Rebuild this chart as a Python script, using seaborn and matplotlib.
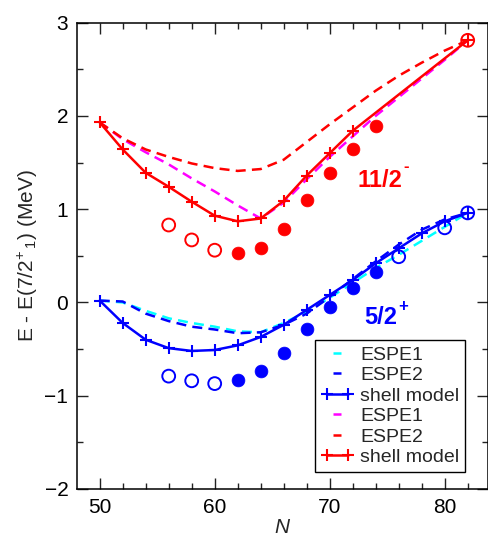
import numpy as np
import pandas as pd
import matplotlib
matplotlib.use("Agg")
import matplotlib.pyplot as plt
import seaborn as sns

# ---------------- data ----------------
N_all = [50, 52, 54, 56, 58, 60, 62, 64, 66, 68, 70, 72, 74, 76, 78, 80, 82]

# 11/2- (red family)
red_shell_N = [50, 52, 54, 56, 58, 60, 62, 64, 66, 68, 70, 72, 82]
red_shell = [1.93, 1.64, 1.39, 1.24, 1.08, 0.93, 0.87, 0.90, 1.09, 1.36, 1.60, 1.84, 2.81]
red_espe1 = [1.93, 1.75, 1.61, 1.48, 1.33, 1.19, 1.04, 0.90, 1.07, 1.32, 1.56, 1.78,
             2.00, 2.20, 2.40, 2.60, 2.81]
red_espe2 = [1.93, 1.76, 1.64, 1.56, 1.49, 1.44, 1.41, 1.43, 1.53, 1.72, 1.91, 2.09,
             2.27, 2.43, 2.57, 2.70, 2.81]
red_open_N = [56, 58, 60, 82]
red_open = [0.83, 0.67, 0.56, 2.81]
red_fill_N = [62, 64, 66, 68, 70, 72, 74]
red_fill = [0.53, 0.58, 0.79, 1.10, 1.39, 1.65, 1.89]

# 5/2+ (blue family)
blue_shell = [0.02, -0.22, -0.40, -0.49, -0.52, -0.51, -0.46, -0.37, -0.24, -0.08, 0.08,
              0.24, 0.42, 0.58, 0.74, 0.87, 0.96]
blue_espe1 = [0.02, 0.00, -0.09, -0.17, -0.22, -0.26, -0.31, -0.32, -0.22, -0.10, 0.05,
              0.21, 0.37, 0.51, 0.66, 0.81, 0.96]
blue_espe2 = [0.02, 0.01, -0.12, -0.20, -0.26, -0.29, -0.33, -0.32, -0.24, -0.12, 0.06,
              0.25, 0.44, 0.62, 0.78, 0.89, 0.96]
blue_open_N = [56, 58, 60, 76, 80, 82]
blue_open = [-0.79, -0.84, -0.87, 0.49, 0.80, 0.96]
blue_fill_N = [62, 64, 66, 68, 70, 72, 74]
blue_fill = [-0.83, -0.74, -0.54, -0.28, -0.05, 0.16, 0.33]

# ---------------- style ----------------
sns.set_style("ticks")
plt.rcParams['font.family'] = ['Liberation Sans', 'DejaVu Sans']
plt.rcParams['mathtext.fontset'] = 'custom'
plt.rcParams['mathtext.rm'] = 'Liberation Sans'
plt.rcParams['mathtext.it'] = 'Liberation Sans:italic'
plt.rcParams['mathtext.bf'] = 'Liberation Sans:bold'

RED, BLUE, CYAN, MAG = '#ff0000', '#0000ff', '#00ffff', '#ff00ff'
LW = 1.8
DASH = (4, 2.5)

fig = plt.figure(figsize=(4.88, 5.42), dpi=100)
ax = fig.add_axes([76.7 / 488, 1 - 489 / 542, 1 - 76.7 / 488, (489 - 22.6) / 542])

def line(x, y, color, label, dashed):
    df = pd.DataFrame({'N': x, 'E': y})
    kw = dict(data=df, x='N', y='E', ax=ax, color=color, lw=LW, label=label,
              estimator=None, sort=False)
    if dashed:
        sns.lineplot(**kw)
        ax.lines[-1].set_linestyle((0, DASH))
    else:
        sns.lineplot(**kw, marker='+', markersize=8, markeredgewidth=1.5,
                     markeredgecolor=color)

# blue family
line(N_all, blue_espe1, CYAN, 'ESPE1', True)
line(N_all, blue_espe2, BLUE, 'ESPE2', True)
line(N_all, blue_shell, BLUE, 'shell model', False)
# red family
line(N_all, red_espe1, MAG, 'ESPE1', True)
line(N_all, red_espe2, RED, 'ESPE2', True)
line(red_shell_N, red_shell, RED, 'shell model', False)

# experimental points
def pts(x, y, color, filled):
    df = pd.DataFrame({'N': x, 'E': y})
    if filled:
        sns.scatterplot(data=df, x='N', y='E', ax=ax, color=color, s=85,
                        edgecolor=color, linewidth=0.5, zorder=3, legend=False)
    else:
        sns.scatterplot(data=df, x='N', y='E', ax=ax, facecolor='none', s=85,
                        edgecolor=color, linewidth=1.4, zorder=3, legend=False)

pts(red_open_N, red_open, RED, False)
pts(red_fill_N, red_fill, RED, True)
pts(blue_open_N, blue_open, BLUE, False)
pts(blue_fill_N, blue_fill, BLUE, True)

# labels
t1 = ax.text(72.4, 1.24, '11/2', color=RED, fontsize=17,
             fontweight='bold', va='baseline', ha='left')
ax.annotate('-', xy=(1.0, 1.0), xycoords=t1, xytext=(1.0, 1.5),
            textcoords='offset points', color=RED, fontsize=12,
            fontweight='bold', ha='left', va='center')
t2 = ax.text(73.0, -0.23, '5/2', color=BLUE, fontsize=17,
             fontweight='bold', va='baseline', ha='left')
ax.annotate('+', xy=(1.0, 1.0), xycoords=t2, xytext=(0.5, -0.5),
            textcoords='offset points', color=BLUE, fontsize=12,
            fontweight='bold', ha='left', va='center')

# axes
ax.set_xlim(48, 48 + (488 - 76.7) / 11.5)
ax.set_ylim(-2, 3)
ax.set_xticks([50, 60, 70, 80])
ax.set_xticks(np.arange(50, 84, 2), minor=True)
ax.set_yticks([-2, -1, 0, 1, 2, 3])
ax.set_yticks(np.arange(-2, 3.01, 0.5), minor=True)
ax.tick_params(which='both', direction='in', top=True, right=True,
               colors='#222222', labelcolor='black', labelsize=15)
ax.tick_params(which='major', length=8, width=1.0)
ax.tick_params(which='minor', length=4, width=1.0)
ax.tick_params(axis='x', which='major', pad=6.5)
ax.tick_params(axis='y', which='major', pad=6)
for s in ax.spines.values():
    s.set_linewidth(1.1)
    s.set_color('black')

ax.set_xlabel('N', fontsize=15, style='italic', labelpad=1)
ax.set_ylabel(r'E - E(7/2$^{+}{}_{\,1}$) (MeV)', fontsize=15, labelpad=3)

# legend
h, l = ax.get_legend_handles_labels()
leg = ax.legend(h, l, loc='lower right', bbox_to_anchor=(465 / 488, 1 - 472 / 542),
                bbox_transform=fig.transFigure, fontsize=14, frameon=True,
                fancybox=False, framealpha=1, edgecolor='black', borderpad=0.3,
                labelspacing=0.15, handlelength=1.7, handletextpad=0.3,
                numpoints=2, borderaxespad=0)
leg.get_frame().set_linewidth(1.0)
for ln in leg.get_lines():
    if ln.get_marker() in (None, 'None', '', ' '):
        ln.set_linestyle((3.6, (3.2, 2.8)))

fig.savefig('out.png', dpi=100)
